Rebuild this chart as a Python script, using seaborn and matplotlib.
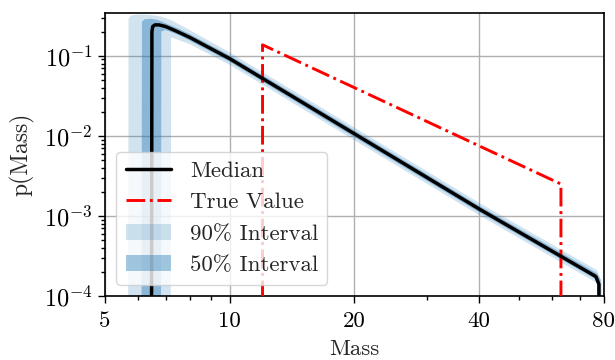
import matplotlib
matplotlib.use("Agg")
import matplotlib.pyplot as plt
import seaborn as sns
import pandas as pd
from matplotlib.ticker import FixedLocator, FixedFormatter, NullFormatter
from matplotlib.patches import Patch
from matplotlib.lines import Line2D

# ---- data ----
mass_median = [6.47, 6.49, 6.52, 6.6, 6.75, 7.0, 7.4, 8.0, 10, 20, 40, 76.5, 77.8, 78.0]
p_median = [1e-6, 0.2, 0.232, 0.243, 0.243, 0.232, 0.205, 0.17, 0.092, 0.0106, 0.00122, 1.75e-4, 1.4e-4, 1e-6]

mass_true = [12.0, 12.0, 63.0, 63.0]
p_true = [1e-6, 0.137, 0.0025, 1e-6]

mass_band90 = [5.68, 5.7, 5.78, 6.0, 6.4, 6.8, 7.2, 7.22, 8, 10, 20, 40, 77, 79, 79.3]
upper90 = [1e-6, 0.29, 0.32, 0.327, 0.325, 0.31, 0.28, 0.279, 0.21, 0.11, 0.0127, 0.00146, 2.1e-4, 1.5e-4, 1e-6]
lower90 = [1e-6, 1e-6, 1e-6, 1e-6, 1e-6, 1e-6, 1e-6, 0.17, 0.14, 0.077, 0.0088, 0.00102, 1.45e-4, 1e-6, 1e-6]

mass_band50 = [6.12, 6.14, 6.22, 6.45, 6.7, 6.82, 6.84, 7.0, 7.5, 8, 10, 20, 40, 77, 78.6, 78.9]
upper50 = [1e-6, 0.265, 0.285, 0.29, 0.28, 0.27, 0.27, 0.255, 0.22, 0.187, 0.101, 0.0117, 0.00134, 1.92e-4, 1.6e-4, 1e-6]
lower50 = [1e-6, 1e-6, 1e-6, 1e-6, 1e-6, 1e-6, 0.2, 0.21, 0.183, 0.155, 0.084, 0.0096, 0.00111, 1.58e-4, 1e-6, 1e-6]

x_ticks = [5, 10, 20, 40, 80]
x_ticklabels = ["5", "10", "20", "40", "80"]
labels = ["Median", "True Value", "90% Interval", "50% Interval"]

# ---- style ----
sns.set_style("ticks")
plt.rcParams["font.family"] = ["cmr10", "DejaVu Serif"]
plt.rcParams["mathtext.fontset"] = "cm"
plt.rcParams["axes.formatter.use_mathtext"] = True
plt.rcParams["axes.unicode_minus"] = True
FS = 16.5
plt.rcParams["font.size"] = FS

fig, ax = plt.subplots(figsize=(6.15, 3.6), dpi=100)
fig.subplots_adjust(left=0.1707, right=0.982, top=0.9639, bottom=0.1778)

ax.set_xscale("log")
ax.set_yscale("log")

ax.fill_between(mass_band90, lower90, upper90, color="C0", alpha=0.2, lw=0, zorder=2)
ax.fill_between(mass_band50, lower50, upper50, color="C0", alpha=0.4, lw=0, zorder=2)

df_med = pd.DataFrame({"Mass": mass_median, "p": p_median})
df_true = pd.DataFrame({"Mass": mass_true, "p": p_true})
sns.lineplot(data=df_med, x="Mass", y="p", ax=ax, color="black", lw=2.5,
             estimator=None, sort=False, zorder=4)
sns.lineplot(data=df_true, x="Mass", y="p", ax=ax, color="red", lw=2.1,
             linestyle="-.", estimator=None, sort=False, zorder=3)

ax.set_xlim(5, 80)
ax.set_ylim(1e-4, 0.342)

ax.xaxis.set_major_locator(FixedLocator(x_ticks))
ax.xaxis.set_major_formatter(FixedFormatter(x_ticklabels))
ax.xaxis.set_minor_formatter(NullFormatter())

ax.grid(True, which="major", color="#b0b0b0", lw=1)
ax.set_axisbelow(True)
for s in ax.spines.values():
    s.set_color("black")
    s.set_linewidth(1.2)
    s.set_visible(True)
ax.tick_params(which="both", direction="out", colors="black", labelsize=FS, width=1)
ax.tick_params(which="major", length=5)
ax.tick_params(which="minor", length=3)
ax.tick_params(axis="x", which="major", pad=6)
ax.tick_params(axis="y", which="major", labelsize=17.5, pad=4)

ax.set_xlabel("Mass", fontsize=FS, labelpad=6)
ax.set_ylabel("p(Mass)", fontsize=17, labelpad=7)

handles = [
    Line2D([], [], color="black", lw=2.5),
    Line2D([], [], color="red", lw=2.1, linestyle="-."),
    Patch(facecolor="C0", alpha=0.2, lw=0),
    Patch(facecolor="C0", alpha=0.4, lw=0),
]
leg = ax.legend(handles, labels, loc="lower left", fontsize=FS, framealpha=0.8)
leg.set_zorder(10)

fig.savefig("out.png", dpi=100)
